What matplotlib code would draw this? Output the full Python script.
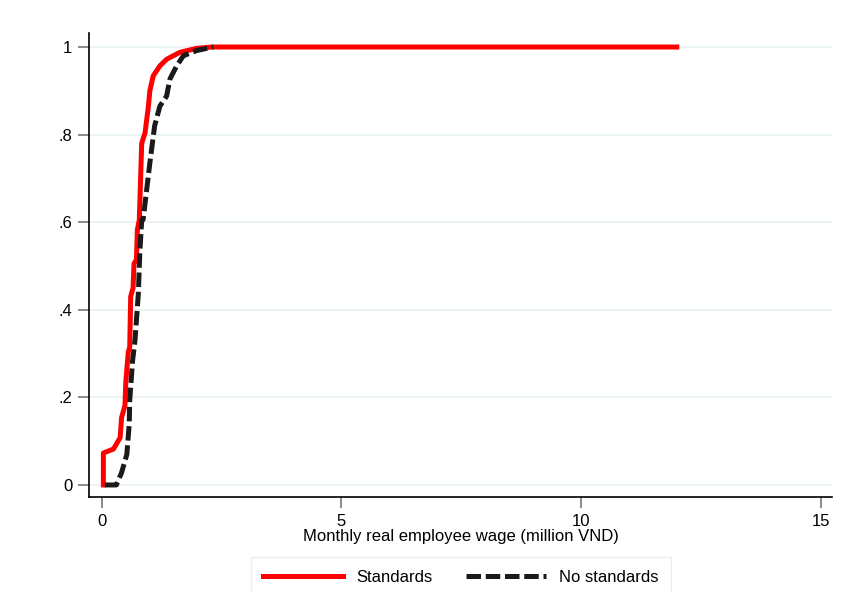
import numpy as np
import matplotlib.pyplot as plt

plt.rcParams['font.family'] = ['Liberation Sans', 'DejaVu Sans']

# CDF of monthly real wage
wage_std = [0.03, 0.03, 0.24, 0.38, 0.41, 0.48, 0.50, 0.55, 0.58, 0.60, 0.65, 0.67,
            0.72, 0.74, 0.78, 0.83, 0.90, 0.97, 1.00, 1.07, 1.21, 1.35, 1.63, 1.98,
            2.30, 5.5, 10.0, 12.0]
cdf_std = [0.0, 0.073, 0.082, 0.108, 0.154, 0.181, 0.238, 0.303, 0.315, 0.43, 0.45, 0.506,
           0.514, 0.583, 0.605, 0.78, 0.804, 0.865, 0.90, 0.934, 0.957, 0.972, 0.988, 0.997,
           1.0, 1.0, 1.0, 1.0]

wage_nostd = [0.06, 0.30, 0.41, 0.52, 0.57, 0.58, 0.64, 0.69, 0.72, 0.76, 0.79, 0.83,
              0.86, 1.00, 1.10, 1.21, 1.35, 1.42, 1.56, 1.70, 1.98, 2.32]
cdf_nostd = [0.0, 0.0, 0.028, 0.07, 0.139, 0.193, 0.284, 0.33, 0.376, 0.437, 0.529, 0.605,
             0.606, 0.735, 0.82, 0.865, 0.888, 0.927, 0.957, 0.98, 0.992, 1.0]

yticks = [0, 0.2, 0.4, 0.6, 0.8, 1.0]
ylabels = ['0', '.2', '.4', '.6', '.8', '1']
xticks = [0, 5, 10, 15]

fig = plt.figure(figsize=(8.44, 5.92), dpi=100)
ax = fig.add_axes([89/844, 1-497/592, (832-89)/844, (497-33)/592])

for t in yticks:
    ax.axhline(t, color='#eaf2f3', linewidth=1.3, zorder=0)

ax.plot(wage_std, cdf_std, color='#ff0000', linewidth=3.6, label='Standards',
        solid_joinstyle='round', zorder=2)
ax.plot(wage_nostd, cdf_nostd, color='#1a1a1a', linewidth=3.6, label='No standards',
        dashes=(2.9, 0.95), dash_capstyle='butt', zorder=3)

ax.set_xlim(-0.27, 15.24)
ax.set_ylim(-0.0275, 1.032)
ax.set_xticks(xticks)
ax.set_yticks(yticks)
ax.set_yticklabels(ylabels)
ax.tick_params(axis='both', direction='out', length=8, width=1.2, color='#777777',
               labelsize=12, pad=4)

ax.spines['top'].set_visible(False)
ax.spines['right'].set_visible(False)
ax.spines['left'].set_linewidth(1.2)
ax.spines['bottom'].set_linewidth(1.2)

ax.set_xlabel('Monthly real employee wage (million VND)', fontsize=12, labelpad=0)

leg = fig.legend(loc='upper center', bbox_to_anchor=(0.546, 0.0591), ncol=2,
                 fontsize=12, handlelength=4.8, columnspacing=2.0, handletextpad=0.78,
                 frameon=True, fancybox=False, borderpad=0.75, borderaxespad=0)
leg.get_frame().set_edgecolor('#e6eced')
leg.get_frame().set_linewidth(1.0)

fig.savefig('out.png', dpi=100)
